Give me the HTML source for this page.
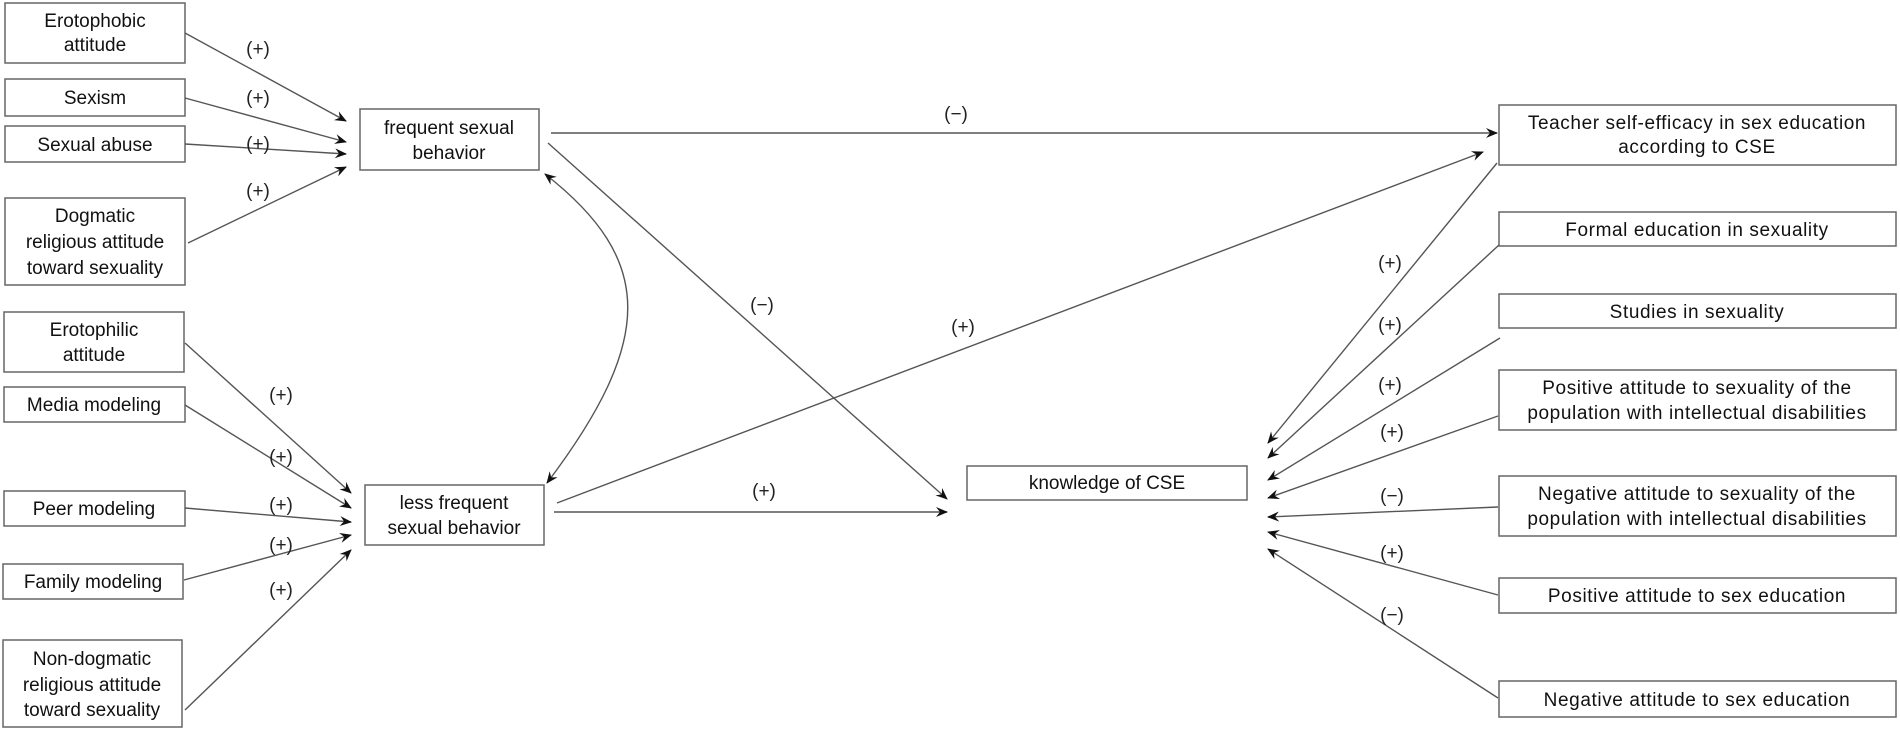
<!DOCTYPE html>
<html><head><meta charset="utf-8"><style>
html,body{margin:0;padding:0;background:#fff;}
svg{display:block;}
text{font-family:"Liberation Sans",Arial,sans-serif;fill:#111;}
.b{fill:#fff;stroke:#666;stroke-width:1.5;}
.l{stroke:#555;stroke-width:1.4;fill:none;}
.t{font-size:19px;text-anchor:middle;}
.p{font-size:19px;text-anchor:middle;fill:#222;}
</style></head><body>
<svg width="1900" height="730" viewBox="0 0 1900 730" xmlns="http://www.w3.org/2000/svg">
<defs>
<marker id="a" markerWidth="12" markerHeight="12" refX="11" refY="6" orient="auto" markerUnits="userSpaceOnUse">
<path d="M0,1 L12,6 L0,11 L4,6 z" fill="#111"/>
</marker>
<marker id="s" markerWidth="12" markerHeight="12" refX="1" refY="6" orient="auto" markerUnits="userSpaceOnUse">
<path d="M12,1 L0,6 L12,11 L8,6 z" fill="#111"/>
</marker>
</defs>

<!-- left top boxes -->
<rect class="b" x="5" y="3" width="180" height="60"/>
<text class="t" x="95" y="27">Erotophobic</text><text class="t" x="95" y="51">attitude</text>
<rect class="b" x="5" y="79" width="180" height="37"/>
<text class="t" x="95" y="104">Sexism</text>
<rect class="b" x="5" y="126" width="180" height="36"/>
<text class="t" x="95" y="151">Sexual abuse</text>
<rect class="b" x="5" y="198" width="180" height="87"/>
<text class="t" x="95" y="222">Dogmatic</text><text class="t" x="95" y="248">religious attitude</text><text class="t" x="95" y="274">toward sexuality</text>

<!-- left bottom boxes -->
<rect class="b" x="4" y="312" width="180" height="60"/>
<text class="t" x="94" y="336">Erotophilic</text><text class="t" x="94" y="361">attitude</text>
<rect class="b" x="4" y="387" width="181" height="35"/>
<text class="t" x="94" y="411">Media modeling</text>
<rect class="b" x="4" y="491" width="181" height="35"/>
<text class="t" x="94" y="515">Peer modeling</text>
<rect class="b" x="3" y="564" width="180" height="35"/>
<text class="t" x="93" y="588">Family modeling</text>
<rect class="b" x="3" y="640" width="179" height="87"/>
<text class="t" x="92" y="665">Non-dogmatic</text><text class="t" x="92" y="691">religious attitude</text><text class="t" x="92" y="716">toward sexuality</text>

<!-- middle boxes -->
<rect class="b" x="360" y="109" width="179" height="61"/>
<text class="t" x="449" y="134">frequent sexual</text><text class="t" x="449" y="159">behavior</text>
<rect class="b" x="365" y="485" width="179" height="60"/>
<text class="t" x="454" y="509">less frequent</text><text class="t" x="454" y="534">sexual behavior</text>
<rect class="b" x="967" y="466" width="280" height="34"/>
<text class="t" x="1107" y="489">knowledge of CSE</text>

<!-- right boxes -->
<rect class="b" x="1499" y="105" width="397" height="60"/>
<text class="t" x="1697" y="129" letter-spacing="0.6">Teacher self-efficacy in sex education</text>
<text class="t" x="1697" y="153" letter-spacing="0.6">according to CSE</text>
<rect class="b" x="1499" y="212" width="397" height="34"/>
<text class="t" x="1697" y="236" letter-spacing="0.6">Formal education in sexuality</text>
<rect class="b" x="1499" y="294" width="397" height="34"/>
<text class="t" x="1697" y="318" letter-spacing="0.6">Studies in sexuality</text>
<rect class="b" x="1499" y="370" width="397" height="60"/>
<text class="t" x="1697" y="394" letter-spacing="0.6">Positive attitude to sexuality of the</text>
<text class="t" x="1697" y="419" letter-spacing="0.6">population with intellectual disabilities</text>
<rect class="b" x="1499" y="476" width="397" height="60"/>
<text class="t" x="1697" y="500" letter-spacing="0.6">Negative attitude to sexuality of the</text>
<text class="t" x="1697" y="525" letter-spacing="0.6">population with intellectual disabilities</text>
<rect class="b" x="1499" y="578" width="397" height="35"/>
<text class="t" x="1697" y="602" letter-spacing="0.6">Positive attitude to sex education</text>
<rect class="b" x="1499" y="681" width="397" height="36"/>
<text class="t" x="1697" y="706" letter-spacing="0.6">Negative attitude to sex education</text>

<!-- left top arrows -->
<line class="l" x1="185" y1="33" x2="346" y2="121" marker-end="url(#a)"/>
<line class="l" x1="185" y1="98" x2="346" y2="142" marker-end="url(#a)"/>
<line class="l" x1="185" y1="144" x2="346" y2="154" marker-end="url(#a)"/>
<line class="l" x1="188" y1="243" x2="346" y2="167" marker-end="url(#a)"/>
<text class="p" x="258" y="55">(+)</text>
<text class="p" x="258" y="104">(+)</text>
<text class="p" x="258" y="150">(+)</text>
<text class="p" x="258" y="197">(+)</text>

<!-- left bottom arrows -->
<line class="l" x1="185" y1="343" x2="351" y2="493" marker-end="url(#a)"/>
<line class="l" x1="185" y1="405" x2="351" y2="508" marker-end="url(#a)"/>
<line class="l" x1="185" y1="508" x2="351" y2="522" marker-end="url(#a)"/>
<line class="l" x1="184" y1="580" x2="351" y2="535" marker-end="url(#a)"/>
<line class="l" x1="185" y1="710" x2="351" y2="550" marker-end="url(#a)"/>
<text class="p" x="281" y="401">(+)</text>
<text class="p" x="281" y="463">(+)</text>
<text class="p" x="281" y="511">(+)</text>
<text class="p" x="281" y="551">(+)</text>
<text class="p" x="281" y="596">(+)</text>

<!-- middle arrows -->
<line class="l" x1="551" y1="133" x2="1497" y2="133" marker-end="url(#a)"/>
<text class="p" x="956" y="120">(−)</text>
<line class="l" x1="548" y1="143" x2="947" y2="499" marker-end="url(#a)"/>
<text class="p" x="762" y="311">(−)</text>
<path class="l" d="M545,174 C655,260 655,340 547,483" marker-start="url(#s)" marker-end="url(#a)"/>
<line class="l" x1="557" y1="503" x2="1483" y2="152" marker-end="url(#a)"/>
<text class="p" x="963" y="333">(+)</text>
<line class="l" x1="554" y1="512" x2="947" y2="512" marker-end="url(#a)"/>
<text class="p" x="764" y="497">(+)</text>

<!-- right arrows -->
<line class="l" x1="1497" y1="163" x2="1268" y2="443" marker-end="url(#a)"/>
<line class="l" x1="1499" y1="245" x2="1268" y2="458" marker-end="url(#a)"/>
<line class="l" x1="1500" y1="338" x2="1268" y2="480" marker-end="url(#a)"/>
<line class="l" x1="1498" y1="416" x2="1268" y2="498" marker-end="url(#a)"/>
<line class="l" x1="1498" y1="507" x2="1268" y2="517" marker-end="url(#a)"/>
<line class="l" x1="1498" y1="595" x2="1268" y2="532" marker-end="url(#a)"/>
<line class="l" x1="1498" y1="698" x2="1268" y2="549" marker-end="url(#a)"/>
<text class="p" x="1390" y="269">(+)</text>
<text class="p" x="1390" y="331">(+)</text>
<text class="p" x="1390" y="391">(+)</text>
<text class="p" x="1392" y="438">(+)</text>
<text class="p" x="1392" y="502">(−)</text>
<text class="p" x="1392" y="559">(+)</text>
<text class="p" x="1392" y="621">(−)</text>
</svg>
</body></html>
